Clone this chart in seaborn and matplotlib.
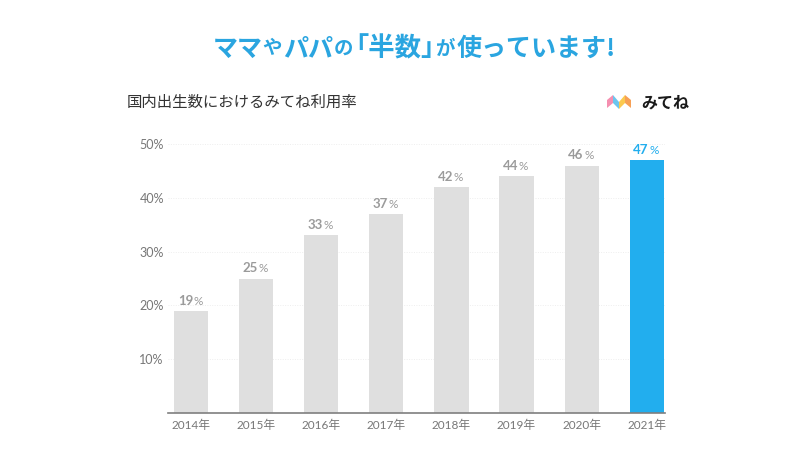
# plot.py
import pandas as pd
import matplotlib.pyplot as plt
import seaborn as sns
from matplotlib.patches import Polygon

years = ['2014年', '2015年', '2016年', '2017年', '2018年', '2019年', '2020年', '2021年']
rates = [19, 25, 33, 37, 42, 44, 46, 47]
y_ticks = [10, 20, 30, 40, 50]
heading_parts = ['ママ', 'や', 'パパ', 'の', '｢半数｣', 'が', '使っています!']
heading_sizes = [18, 14, 18, 14, 19, 14, 18]
heading_left = [213, 262, 283, 334, 355, 435, 457]

GREY = '#dfdfdf'
BLUE = '#22aeee'
JP_FONT = ['Noto Sans CJK JP', 'DejaVu Sans']

def draw_heading(fig):
    """Writes the heading piece by piece, the kana between the words being smaller."""
    for part, size, left in zip(heading_parts, heading_sizes, heading_left):
        fig.text(left / 810, 1 - 49 / 468, part, color='#2aa5e0', fontsize=size, fontweight='bold', family=JP_FONT, va='center', ha='left')

def draw_logo(fig):
    """Draws the small folded logo and its name."""
    # pixel corners of the four folds
    folds = [
        ('#f58fb0', [(607, 100), (613, 95), (613, 103), (607, 108)]),
        ('#6cc5ee', [(613, 95), (619, 102), (619, 109), (613, 103)]),
        ('#fbc94f', [(619, 102), (625, 95), (625, 103), (619, 109)]),
        ('#f7a055', [(625, 95), (631, 100), (631, 108), (625, 103)]),
    ]
    for color, corners in folds:
        points = [(px / 810, 1 - py / 468) for px, py in corners]
        fig.add_artist(Polygon(points, closed=True, facecolor=color, edgecolor='none', transform=fig.transFigure))
    fig.text(641 / 810, 1 - 103 / 468, 'みてね', color='#1a1a1a', fontsize=11.5, fontweight='bold', family=JP_FONT, va='center', ha='left')

def main():
    df = pd.DataFrame({'year': years, 'rate': rates})

    plt.rcParams['font.family'] = ['Lato', 'Noto Sans CJK JP', 'DejaVu Sans']
    fig = plt.figure(figsize=(8.1, 4.68), dpi=100)
    ax = fig.add_axes([168 / 810, 1 - 413 / 468, (665 - 168) / 810, (413 - 144) / 468])

    # Bar chart, only the last year is highlighted
    colors = [GREY] * (len(years) - 1) + [BLUE]
    sns.barplot(data=df, x='year', y='rate', hue='year', palette=colors, legend=False, width=0.525, saturation=1, ax=ax, zorder=2)

    ax.set_xlim(-0.353, 7.28)
    ax.set_ylim(0, 50)
    ax.set_yticks(y_ticks)
    ax.set_yticklabels([f'{v}%' for v in y_ticks])
    ax.set_xlabel('')
    ax.set_ylabel('')
    ax.grid(axis='y', color='#eeeeee', linewidth=0.7, linestyle=(0, (1, 1.5)), zorder=0)
    ax.tick_params(axis='both', length=0, labelcolor='#777777', labelsize=8.5)
    ax.tick_params(axis='y', labelsize=9, pad=3)
    ax.tick_params(axis='x', pad=5)
    for side in ['top', 'right', 'left']:
        ax.spines[side].set_visible(False)
    ax.spines['bottom'].set_color('#7f7f7f')
    ax.spines['bottom'].set_linewidth(1.2)

    # Value labels above the bars
    for i, rate in enumerate(rates):
        color = BLUE if i == len(rates) - 1 else '#9b9b9b'
        ax.annotate(f'{rate}', (i, rate), xytext=(1.5, 3), textcoords='offset points', ha='right', va='bottom', color=color, fontsize=9.5, fontweight='bold')
        ax.annotate('%', (i, rate), xytext=(1.7, 3), textcoords='offset points', ha='left', va='bottom', color=color, fontsize=8.5)

    draw_heading(fig)
    fig.text(127 / 810, 1 - 102 / 468, '国内出生数におけるみてね利用率', color='#333333', fontsize=11.1, family=JP_FONT, va='center', ha='left')
    draw_logo(fig)

    fig.savefig('out.png', dpi=100)
    plt.close()

if __name__ == "__main__":
    main()
